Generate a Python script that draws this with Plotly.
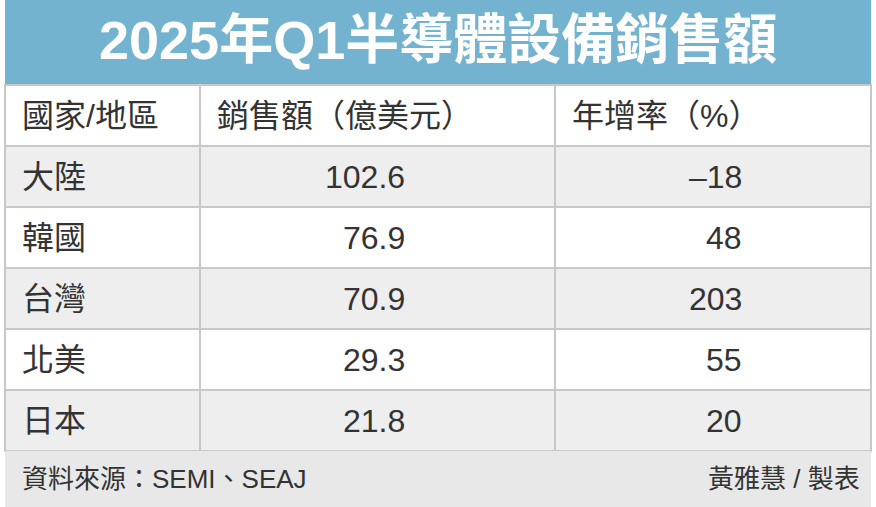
import plotly.graph_objects as go

title = "2025年Q1半導體設備銷售額"
headers = ["國家/地區", "銷售額（億美元）", "年增率（%）"]
regions = ["大陸", "韓國", "台灣", "北美", "日本"]
sales = [102.6, 76.9, 70.9, 29.3, 21.8]
growth = [-18, 48, 203, 55, 20]
source = "資料來源：SEMI、SEAJ"
credit = "黃雅慧 / 製表"

W, H = 876, 507
FONT = "Liberation Sans, Noto Sans CJK TC"
top, row_h = 85, 61
left, right = 5, 871
col_x = [200, 555]

fig = go.Figure()
shapes = []
ann = []

# title bar
shapes.append(dict(type="rect", x0=left, x1=right, y0=0, y1=top, fillcolor="#74b3cf", line_width=0, layer="below"))
ann.append(dict(x=W / 2, y=40, text="<b>" + title + "</b>", showarrow=False,
                font=dict(family=FONT, size=54, color="white")))

# rows
n = len(regions) + 1
for i in range(n):
    y0 = top + i * row_h
    fill = "#eeeeee" if i % 2 == 1 else "white"
    shapes.append(dict(type="rect", x0=left, x1=right, y0=y0, y1=y0 + row_h, fillcolor=fill,
                       line=dict(color="#c8c8c8", width=2), layer="below"))
bottom = top + n * row_h
for cx in col_x:
    shapes.append(dict(type="line", x0=cx, x1=cx, y0=top, y1=bottom, line=dict(color="#c8c8c8", width=2)))

# footer
shapes.append(dict(type="rect", x0=left, x1=right, y0=bottom, y1=H, fillcolor="#e8e8e8", line_width=0, layer="below"))

txt = dict(family=FONT, size=32, color="#333333")
hy = top + row_h / 2
ann.append(dict(x=20, y=hy, text=headers[0], xanchor="left", showarrow=False, font=txt))
ann.append(dict(x=215, y=hy, text=headers[1], xanchor="left", showarrow=False, font=txt))
ann.append(dict(x=570, y=hy, text=headers[2], xanchor="left", showarrow=False, font=txt))

for i, (r, s, g) in enumerate(zip(regions, sales, growth)):
    y = top + (i + 1.5) * row_h
    ann.append(dict(x=20, y=y, text=r, xanchor="left", showarrow=False, font=txt))
    ann.append(dict(x=407, y=y, text=f"{s:.1f}", xanchor="right", showarrow=False, font=txt))
    gs = f"–{abs(g)}" if g < 0 else str(g)
    ann.append(dict(x=744, y=y, text=gs, xanchor="right", showarrow=False, font=txt))

fy = (bottom + H) / 2
small = dict(family=FONT, size=26, color="#333333")
ann.append(dict(x=20, y=fy, text=source, xanchor="left", showarrow=False, font=small))
ann.append(dict(x=862, y=fy, text=credit, xanchor="right", showarrow=False, font=small))

fig.update_layout(
    width=W, height=H, margin=dict(l=0, r=0, t=0, b=0),
    paper_bgcolor="white", plot_bgcolor="white",
    xaxis=dict(range=[0, W], visible=False, fixedrange=True),
    yaxis=dict(range=[H, 0], visible=False, fixedrange=True),
    shapes=shapes, annotations=ann, showlegend=False,
)
fig.write_html("out.html", config={"displayModeBar": False},
               post_script="document.body.style.margin='0';document.body.style.overflow='hidden';")
